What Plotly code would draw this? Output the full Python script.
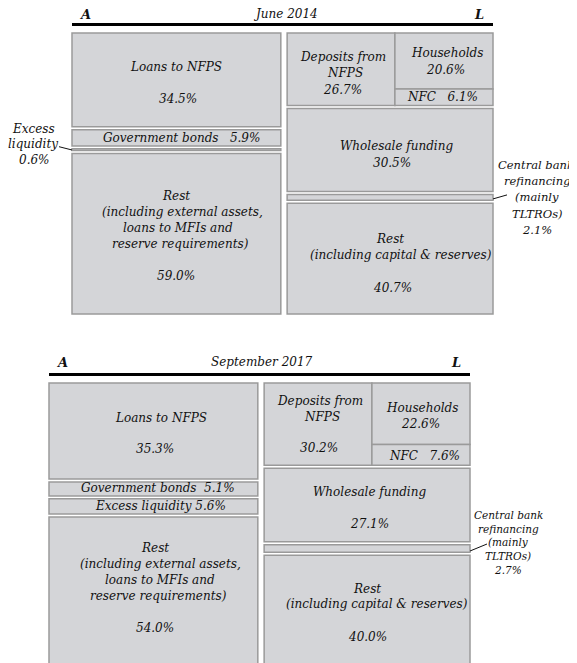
import plotly.graph_objects as go

# ---------------- data ----------------
periods = ["June 2014", "September 2017"]
loans_nfps = [34.5, 35.3]
gov_bonds = [5.9, 5.1]
excess_liquidity = [0.6, 5.6]
rest_assets = [59.0, 54.0]
deposits_nfps = [26.7, 30.2]
households = [20.6, 22.6]
nfc = [6.1, 7.6]
wholesale_funding = [30.5, 27.1]
cb_refinancing = [2.1, 2.7]
rest_liabilities = [40.7, 40.0]

# ---------------- style ----------------
FONT = "DejaVu Serif"
FILL = "#d4d5d8"
EDGE = "#9a9a9a"
INK = "#111111"
GAP = 1.1            # gap between stacked boxes (in % units)
KX, KY = 4.21, 2.72  # px per axis unit (x, y)
L0, L1 = 0.0, 49.6
R0, R1 = 51.1, 100.0
SPLIT = 76.7
OFF = 8              # page body margin

W, H = 577, 663
fig = go.Figure()
shapes, annots = [], []
AX = [("x", "y"), ("x2", "y2")]


def pct(v):
    return f"{v:.1f}%"


def box(p, x0, x1, y0, y1):
    xr, yr = AX[p]
    shapes.append(dict(type="rect", xref=xr, yref=yr, x0=x0, x1=x1, y0=y0, y1=y1,
                       fillcolor=FILL, line=dict(color=EDGE, width=1.5), layer="above"))


def seg(p, x0, y0, x1, y1, width=1, color=INK):
    xr, yr = AX[p]
    shapes.append(dict(type="line", xref=xr, yref=yr, x0=x0, x1=x1, y0=y0, y1=y1,
                       line=dict(color=color, width=width), layer="above"))


def text(p, txt, x, y, dx=0, dy=0, size=12, bold=False, xanchor="center", style="italic"):
    xr, yr = AX[p]
    annots.append(dict(xref=xr, yref=yr, x=x, y=y, text=txt, showarrow=False,
                       xanchor=xanchor, yanchor="middle", xshift=dx, yshift=-dy,
                       align="center",
                       font=dict(family=FONT, size=size, color=INK, style=style,
                                 weight="bold" if bold else "normal")))


def lines(p, x, y, spec, size=12):
    for txt, dx, dy in spec:
        text(p, txt, x, y, dx, dy, size=size)


for p in range(2):
    # ---- assets column (left) ----
    a_vals = [loans_nfps[p], gov_bonds[p], excess_liquidity[p], rest_assets[p]]
    a_pos = []
    y = 0.0
    for v in a_vals:
        a_pos.append((y, y + v))
        box(p, L0, L1, y, y + v)
        y += v + GAP

    # ---- liabilities column (right) ----
    l_vals = [deposits_nfps[p], wholesale_funding[p], cb_refinancing[p], rest_liabilities[p]]
    l_pos = []
    y = 0.0
    for v in l_vals:
        l_pos.append((y, y + v))
        y += v + GAP
    d0, d1 = l_pos[0]
    box(p, R0, SPLIT, d0, d1)
    box(p, SPLIT, R1, d0, d0 + households[p])
    box(p, SPLIT, R1, d0 + households[p], d0 + households[p] + nfc[p])
    for (y0, y1) in l_pos[1:]:
        box(p, R0, R1, y0, y1)

    # ---- header ----
    hy = -6.9 if p == 0 else -7.7
    seg(p, L0, -3.1, R1, -3.1, width=3, color="#000000")
    text(p, "A", L0, hy, dx=5, size=13, bold=True, xanchor="left")
    text(p, "L", R1, hy, dx=-7, size=13, bold=True, xanchor="right")
    text(p, periods[p], 50.6, hy, size=12)

    cL = (L0 + L1) / 2
    cR = (R0 + R1) / 2
    cD = (R0 + SPLIT) / 2
    cH = (SPLIT + R1) / 2
    mid = lambda t: (t[0] + t[1]) / 2
    hh_mid = d0 + households[p] / 2
    nfc_mid = d0 + households[p] + nfc[p] / 2
    sp = "&nbsp;"

    if p == 0:
        lines(p, cL, mid(a_pos[0]), [("Loans to NFPS", 0, -13), (pct(loans_nfps[p]), 2, 19)])
        lines(p, cL, mid(a_pos[1]), [("Government bonds" + sp * 3 + pct(gov_bonds[p]), 5, 0)])
        lines(p, cL, mid(a_pos[3]), [("Rest", 0, -38), ("(including external assets,", 6, -22),
                                     ("loans to MFIs and", 2, -6), ("reserve requirements)", 4, 10),
                                     (pct(rest_assets[p]), 0, 42)])
        lines(p, cD, mid(l_pos[0]), [("Deposits from", 2, -12), ("NFPS", 4, 4),
                                     (pct(deposits_nfps[p]), 1, 21)])
        lines(p, cH, hh_mid, [("Households", 3, -8), (pct(households[p]), 2, 9)])
        lines(p, cH, nfc_mid, [("NFC" + sp * 3 + pct(nfc[p]), -1, 0)])
        lines(p, cR, mid(l_pos[1]), [("Wholesale funding", 6, -4), (pct(wholesale_funding[p]), 2, 13)])
        lines(p, cR, mid(l_pos[3]), [("Rest", 0, -20), ("(including capital &amp; reserves)", 11, -4),
                                     (pct(rest_liabilities[p]), 2, 29)])
        # excess liquidity callout (left)
        ey = mid(a_pos[2])
        seg(p, L0 - 13 / KX, ey - 3 / KY, L0, ey + 0.3 / KY)
        lines(p, L0, ey, [("Excess", -39, -21), ("liquidity", -39, -6),
                          (pct(excess_liquidity[p]), -38, 10)])
        # central bank callout (right)
        cy = mid(l_pos[2])
        seg(p, R1, cy + 1.5 / KY, R1 + 14 / KX, cy - 2.5 / KY)
        lines(p, R1, cy, [("Central bank", 43, -32), ("refinancing", 44, -16), ("(mainly", 44, 0),
                          ("TLTROs)", 44, 17), (pct(cb_refinancing[p]), 44, 33)], size=11.5)
    else:
        lines(p, cL, mid(a_pos[0]), [("Loans to NFPS", 8, -13), (pct(loans_nfps[p]), 2, 18)])
        lines(p, cL, mid(a_pos[1]), [("Government bonds" + sp * 2 + pct(gov_bonds[p]), 5, -1)])
        lines(p, cL, mid(a_pos[2]), [("Excess liquidity " + pct(excess_liquidity[p]), 7, 0)])
        lines(p, cL, mid(a_pos[3]), [("Rest", 2, -43), ("(including external assets,", 7, -27),
                                     ("loans to MFIs and", 7, -11), ("reserve requirements)", 5, 5),
                                     (pct(rest_assets[p]), 2, 37)])
        lines(p, cD, mid(l_pos[0]), [("Deposits from", 2, -23), ("NFPS", 4, -7),
                                     (pct(deposits_nfps[p]), 1, 24)])
        lines(p, cH, hh_mid, [("Households", 1, -6), (pct(households[p]), 0, 10)])
        lines(p, cH, nfc_mid, [("NFC" + sp * 3 + pct(nfc[p]), 4, 1)])
        lines(p, cR, mid(l_pos[1]), [("Wholesale funding", 2, -13), (pct(wholesale_funding[p]), 2, 19)])
        lines(p, cR, mid(l_pos[3]), [("Rest", 0, -21), ("(including capital &amp; reserves)", 10, -6),
                                     (pct(rest_liabilities[p]), 0, 27)])
        cy = mid(l_pos[2])
        seg(p, R1, cy + 2.5 / KY, R1 + 17 / KX, cy - 4.5 / KY)
        lines(p, R1, cy, [("Central bank", 38, -34), ("refinancing", 38, -20), ("(mainly", 38, -7),
                          ("TLTROs)", 38, 7), (pct(cb_refinancing[p]), 38, 21)], size=10.5)

# invisible anchor traces so both subplots exist
fig.add_trace(go.Scatter(x=[50], y=[50], mode="markers", marker=dict(opacity=0),
                         hoverinfo="skip", showlegend=False, xaxis="x", yaxis="y"))
fig.add_trace(go.Scatter(x=[50], y=[50], mode="markers", marker=dict(opacity=0),
                         hoverinfo="skip", showlegend=False, xaxis="x2", yaxis="y2"))

# pixel anchors (screen px) of the value origin of each panel
top_x0, top_y0 = 72 - OFF, 33 - OFF
bot_x0, bot_y0 = 49 - OFF, 383 - OFF
top_split = 330 - OFF
bot_start = 340 - OFF
fig.update_layout(
    width=W, height=H,
    margin=dict(l=0, r=0, t=0, b=0),
    paper_bgcolor="white", plot_bgcolor="rgba(0,0,0,0)",
    showlegend=False,
    shapes=shapes, annotations=annots,
    xaxis=dict(domain=[0, 1], range=[-top_x0 / KX, (W - top_x0) / KX], visible=False,
               anchor="y", fixedrange=True),
    yaxis=dict(domain=[1 - top_split / H, 1], range=[(top_split - top_y0) / KY, -top_y0 / KY],
               visible=False, anchor="x", fixedrange=True),
    xaxis2=dict(domain=[0, 1], range=[-bot_x0 / KX, (W - bot_x0) / KX], visible=False,
                anchor="y2", fixedrange=True),
    yaxis2=dict(domain=[0, 1 - bot_start / H], range=[(H - bot_y0) / KY, (bot_start - bot_y0) / KY],
                visible=False, anchor="x2", fixedrange=True),
)

fig.write_html("out.html")
